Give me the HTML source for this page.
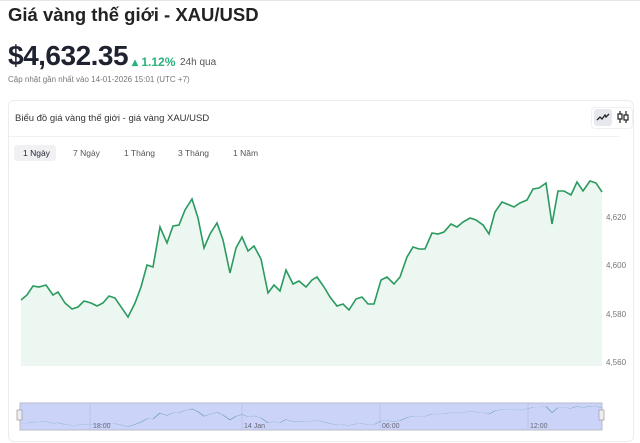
<!DOCTYPE html>
<html><head><meta charset="utf-8"><style>
body{margin:0;width:640px;height:443px;background:#fff;font-family:"Liberation Sans",sans-serif;overflow:hidden;position:relative;color:#1f2330}
.t{position:absolute;white-space:nowrap}
</style></head><body>
<div style="position:absolute;left:0;top:0;width:640px;height:1px;background:#e6e6e6"></div>
<div class="t" style="left:8px;top:4px;font-size:18.5px;font-weight:bold;color:#222">Giá vàng thế giới - XAU/USD</div>
<div class="t" style="left:8px;top:40px;font-size:28px;font-weight:600;letter-spacing:-0.5px">$4,632.35</div>
<div class="t" style="left:132px;top:55px;font-size:12px;color:#2ab27b;font-weight:600">▴ 1.12%</div>
<div class="t" style="left:180px;top:57px;font-size:10px;color:#555">24h qua</div>
<div class="t" style="left:8px;top:75px;font-size:8px;color:#777">Cập nhật gần nhất vào 14-01-2026 15:01 (UTC +7)</div>
<div style="position:absolute;left:8px;top:100px;width:624px;height:340px;border:1px solid #ececec;border-radius:6px"></div>
<div class="t" style="left:15px;top:113px;font-size:9.5px;color:#333">Biểu đồ giá vàng thế giới - giá vàng XAU/USD</div>
<div style="position:absolute;left:591px;top:107px;width:40px;height:20px;border:1px solid #f0f0f0;border-radius:4px"></div>
<div style="position:absolute;left:594px;top:109px;width:18px;height:17px;background:#e6e8ee;border-radius:3px"></div>
<svg style="position:absolute;left:596px;top:112px" width="14" height="10"><polyline points="1,8 4,5 6,7 9,3 10,5 13,2" fill="none" stroke="#222" stroke-width="1.3"/></svg>
<svg style="position:absolute;left:616px;top:110px" width="14" height="14"><g stroke="#222" stroke-width="1.2" fill="none"><line x1="4" y1="1" x2="4" y2="13"/><rect x="2" y="4" width="4" height="5" fill="#fff"/><line x1="10" y1="1" x2="10" y2="13"/><rect x="8" y="5" width="4" height="5" fill="#fff"/></g></svg>
<div style="position:absolute;left:9px;top:136px;width:610px;height:1px;background:#f0f0f0"></div>
<div style="position:absolute;left:14px;top:145px;width:42px;height:16px;background:#f1f1f3;border-radius:3px"></div>
<div class="t" style="left:23px;top:148px;font-size:8.5px">1 Ngày</div>
<div class="t" style="left:73px;top:148px;font-size:8.5px;color:#555">7 Ngày</div>
<div class="t" style="left:124px;top:148px;font-size:8.5px;color:#555">1 Tháng</div>
<div class="t" style="left:178px;top:148px;font-size:8.5px;color:#555">3 Tháng</div>
<div class="t" style="left:233px;top:148px;font-size:8.5px;color:#555">1 Năm</div>
<svg style="position:absolute;left:0;top:0" width="640" height="443">
<defs><polyline id="L" points="21,300 27,295 33,286 39,287 46,285 53,295 58,292 65,303 72,309 78,307 84,301 91,303 97,306 103,303 109,296 115,298 128,317 135,303 141,287 147,265 153,267 160,227 167,243 173,226 179,225 185,210 192,199 198,218 204,248 210,234 217,223 223,240 230,273 236,248 242,237 248,251 254,246 261,259 268,293 274,285 280,291 286,270 293,284 299,281 306,287 312,280 317,277 324,287 330,297 337,306 343,304 349,310 356,299 362,297 368,304 374,304 381,280 387,277 394,284 400,277 407,257 413,247 419,249 425,249 432,233 438,234 444,232 451,224 457,227 463,222 470,218 476,220 483,225 489,234 495,212 502,202 507,204 514,207 520,203 527,200 533,189 539,188 546,183 552,224 558,191 564,191 571,195 577,182 583,191 590,181 596,183 602,192"/></defs>
<polygon fill="#ebf7f0" points="21,366 21,300 27,295 33,286 39,287 46,285 53,295 58,292 65,303 72,309 78,307 84,301 91,303 97,306 103,303 109,296 115,298 128,317 135,303 141,287 147,265 153,267 160,227 167,243 173,226 179,225 185,210 192,199 198,218 204,248 210,234 217,223 223,240 230,273 236,248 242,237 248,251 254,246 261,259 268,293 274,285 280,291 286,270 293,284 299,281 306,287 312,280 317,277 324,287 330,297 337,306 343,304 349,310 356,299 362,297 368,304 374,304 381,280 387,277 394,284 400,277 407,257 413,247 419,249 425,249 432,233 438,234 444,232 451,224 457,227 463,222 470,218 476,220 483,225 489,234 495,212 502,202 507,204 514,207 520,203 527,200 533,189 539,188 546,183 552,224 558,191 564,191 571,195 577,182 583,191 590,181 596,183 602,192 602,366"/>
<use href="#L" fill="none" stroke="#2a9a5e" stroke-width="1.6"/>
<g font-size="8" fill="#777" font-family="Liberation Sans,sans-serif">
<text x="606" y="220">4,620</text><text x="606" y="268">4,600</text><text x="606" y="317">4,580</text><text x="606" y="365">4,560</text>
</g>
<rect x="20" y="403" width="582" height="27" fill="#ccd3f8" stroke="#b8bcc8" stroke-width="1"/>
<g stroke="#b4bbe0" stroke-width="0.7"><line x1="90" y1="403" x2="90" y2="430"/><line x1="242" y1="403" x2="242" y2="430"/><line x1="380" y1="403" x2="380" y2="430"/><line x1="528" y1="403" x2="528" y2="430"/></g>
<g transform="translate(0,379) scale(1,0.15)"><use href="#L" fill="none" stroke="#5a9bb0" stroke-width="1" vector-effect="non-scaling-stroke"/></g>
<g font-size="7" fill="#667" font-family="Liberation Sans,sans-serif"><text x="93" y="428">18:00</text><text x="244" y="428">14 Jan</text><text x="382" y="428">06:00</text><text x="530" y="428">12:00</text></g>
<rect x="17" y="410" width="5" height="10" fill="#eee" stroke="#999" stroke-width="0.7"/>
<rect x="599" y="410" width="5" height="10" fill="#eee" stroke="#999" stroke-width="0.7"/>
</svg>
</body></html>
